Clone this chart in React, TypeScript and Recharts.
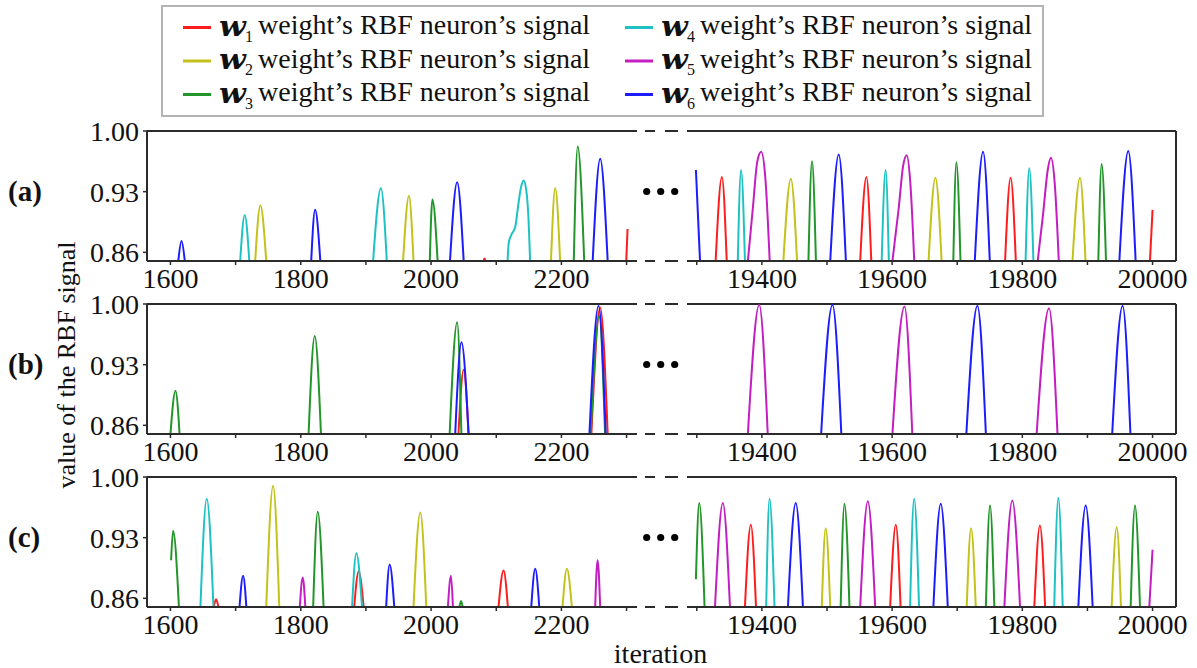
import React from "react";
import { LineChart, Line, XAxis, YAxis, ReferenceLine } from "recharts";

type Pt = [number, number];
type Peak = [number, Pt[]]; // [series index (0 = w1 ... 5 = w6)]

const SERIES_SUBS = ["1", "2", "3", "4", "5", "6"];
const SERIES_TEXT = "weight\u2019s RBF neuron\u2019s signal";
const PANEL_LABELS = ["(a)", "(b)", "(c)"];
const Y_TICKS = [0.86, 0.93, 1.0];
const LEFT_TICKS = [1600, 1700, 1800, 1900, 2000, 2100, 2200, 2300];
const RIGHT_TICKS = [19300, 19400, 19500, 19600, 19700, 19800, 19900, 20000];
const LEFT_DOMAIN: [number, number] = [1564, 2316];
const RIGHT_DOMAIN: [number, number] = [19285, 20036];
const Y_DOMAIN: [number, number] = [0.85, 1.0];

const A_LEFT: Peak[] = [
  [5, [[1612, 0.85], [1617, 0.873], [1622, 0.85]]],
  [3, [[1707, 0.85], [1714, 0.903], [1721, 0.85]]],
  [1, [[1730, 0.85], [1738, 0.914], [1747, 0.85]]],
  [5, [[1816, 0.85], [1822, 0.909], [1830, 0.85]]],
  [3, [[1911, 0.85], [1923, 0.934], [1932, 0.85]]],
  [1, [[1957, 0.85], [1966, 0.925], [1973, 0.85]]],
  [2, [[1998, 0.85], [2002, 0.921], [2010, 0.85]]],
  [5, [[2029, 0.85], [2040, 0.941], [2050, 0.85]]],
  [0, [[2080.5, 0.85], [2082, 0.853], [2083.5, 0.85]]],
  [3, [[2117.4, 0.85], [2119, 0.87], [2123, 0.88], [2129, 0.889], [2134, 0.916], [2138, 0.935], [2142, 0.943], [2146, 0.932], [2149.6, 0.897], [2152, 0.85]]],
  [1, [[2184, 0.85], [2190.5, 0.934], [2198, 0.85]]],
  [2, [[2219, 0.85], [2225, 0.982], [2235, 0.85]]],
  [5, [[2248, 0.85], [2259.5, 0.968], [2271, 0.85]]],
  [0, [[2299.5, 0.85], [2301.5, 0.887]]],
];

const A_RIGHT: Peak[] = [
  [5, [[19298.7, 0.955], [19305, 0.85]]],
  [0, [[19329, 0.85], [19338.6, 0.947], [19346, 0.85]]],
  [3, [[19363, 0.85], [19368, 0.955], [19374, 0.85]]],
  [4, [[19378.5, 0.85], [19386, 0.91], [19393, 0.965], [19399, 0.976], [19405.5, 0.944], [19412, 0.85]]],
  [1, [[19433, 0.85], [19444.5, 0.945], [19454, 0.85]]],
  [2, [[19471.5, 0.85], [19477, 0.965], [19483, 0.85]]],
  [5, [[19505, 0.85], [19518, 0.973], [19529, 0.85]]],
  [0, [[19551, 0.85], [19560.5, 0.947], [19568, 0.85]]],
  [3, [[19584, 0.85], [19590, 0.955], [19595, 0.85]]],
  [4, [[19600.5, 0.85], [19610, 0.91], [19617, 0.96], [19622.5, 0.972], [19628, 0.94], [19634, 0.85]]],
  [1, [[19656, 0.85], [19666.5, 0.946], [19676, 0.85]]],
  [2, [[19694, 0.85], [19698.7, 0.964], [19705, 0.85]]],
  [5, [[19727, 0.85], [19739.7, 0.976], [19750, 0.85]]],
  [0, [[19773.5, 0.85], [19782, 0.946], [19790, 0.85]]],
  [3, [[19805, 0.85], [19810.7, 0.957], [19817, 0.85]]],
  [4, [[19823.6, 0.85], [19832, 0.905], [19839, 0.955], [19844, 0.969], [19850, 0.937], [19856, 0.85]]],
  [1, [[19877, 0.85], [19888.6, 0.946], [19897, 0.85]]],
  [2, [[19916.7, 0.85], [19921.8, 0.962], [19928.5, 0.85]]],
  [5, [[19949, 0.85], [19962.7, 0.977], [19974, 0.85]]],
  [0, [[19996, 0.85], [20000, 0.909]]],
];

const B_LEFT: Peak[] = [
  [2, [[1600, 0.85], [1607.7, 0.9], [1614, 0.85]]],
  [2, [[1812, 0.85], [1821.4, 0.963], [1831, 0.85]]],
  [0, [[2042, 0.85], [2050, 0.924], [2057.5, 0.85]]],
  [2, [[2028.5, 0.85], [2040, 0.979], [2046.5, 0.85]]],
  [5, [[2037, 0.85], [2046.6, 0.956], [2057.5, 0.85]]],
  [0, [[2246, 0.85], [2259.5, 0.996], [2271, 0.85]]],
  [2, [[2245, 0.85], [2258, 0.986], [2267, 0.85]]],
  [5, [[2243, 0.85], [2257, 0.998], [2268, 0.85]]],
];

const B_RIGHT: Peak[] = [
  [4, [[19378.5, 0.85], [19395.9, 0.999], [19409, 0.85]]],
  [5, [[19491, 0.85], [19508.4, 0.999], [19522, 0.85]]],
  [4, [[19600.5, 0.85], [19619, 0.997], [19631, 0.85]]],
  [5, [[19714, 0.85], [19731, 0.998], [19744, 0.85]]],
  [4, [[19822, 0.85], [19841, 0.995], [19854, 0.85]]],
  [5, [[19938, 0.85], [19954, 0.998], [19966, 0.85]]],
];

const C_LEFT: Peak[] = [
  [2, [[1601, 0.904], [1604, 0.938], [1613, 0.85]]],
  [3, [[1646, 0.85], [1655.7, 0.975], [1666, 0.85]]],
  [0, [[1666.5, 0.85], [1670, 0.859], [1673.6, 0.85]]],
  [5, [[1706, 0.85], [1711.5, 0.886], [1716.5, 0.85]]],
  [1, [[1747, 0.85], [1757.5, 0.99], [1767, 0.85]]],
  [4, [[1798.5, 0.85], [1803, 0.884], [1807, 0.85]]],
  [2, [[1819, 0.85], [1826, 0.96], [1835, 0.85]]],
  [3, [[1878.7, 0.85], [1885.3, 0.912], [1894, 0.85]]],
  [0, [[1882, 0.85], [1888.8, 0.891], [1896.5, 0.85]]],
  [5, [[1931, 0.85], [1936.4, 0.899], [1943.5, 0.85]]],
  [1, [[1973, 0.85], [1983.4, 0.959], [1992.6, 0.85]]],
  [4, [[2025.8, 0.85], [2030.5, 0.886], [2033.5, 0.85]]],
  [2, [[2043.5, 0.85], [2045.9, 0.857], [2048.5, 0.85]]],
  [0, [[2103.5, 0.85], [2111.2, 0.892], [2117.8, 0.85]]],
  [5, [[2153.7, 0.85], [2159.8, 0.894], [2166, 0.85]]],
  [1, [[2201.7, 0.85], [2208.4, 0.894], [2216, 0.85]]],
  [4, [[2251.8, 0.85], [2255.5, 0.904], [2259.5, 0.85]]],
];

const C_RIGHT: Peak[] = [
  [2, [[19298.7, 0.882], [19303.8, 0.97], [19312, 0.85]]],
  [4, [[19328, 0.85], [19340, 0.97], [19351, 0.85]]],
  [0, [[19374, 0.85], [19383, 0.945], [19391, 0.85]]],
  [3, [[19406.6, 0.85], [19411.7, 0.975], [19419.4, 0.85]]],
  [5, [[19440, 0.85], [19452, 0.97], [19463, 0.85]]],
  [1, [[19492, 0.85], [19498, 0.941], [19505, 0.85]]],
  [2, [[19521, 0.85], [19526.8, 0.969], [19534.5, 0.85]]],
  [4, [[19551, 0.85], [19562.7, 0.972], [19574, 0.85]]],
  [0, [[19597, 0.85], [19605.7, 0.945], [19613, 0.85]]],
  [3, [[19627.6, 0.85], [19633.8, 0.975], [19641.4, 0.85]]],
  [5, [[19663.4, 0.85], [19674.7, 0.969], [19685.5, 0.85]]],
  [1, [[19714.6, 0.85], [19721.3, 0.941], [19728.5, 0.85]]],
  [2, [[19744, 0.85], [19750.4, 0.967], [19757, 0.85]]],
  [4, [[19772.4, 0.85], [19784.6, 0.973], [19796.5, 0.85]]],
  [0, [[19818.4, 0.85], [19827, 0.944], [19835, 0.85]]],
  [3, [[19849, 0.85], [19855.3, 0.976], [19862, 0.85]]],
  [5, [[19886, 0.85], [19897.3, 0.967], [19908, 0.85]]],
  [1, [[19937.2, 0.85], [19945, 0.942], [19951.5, 0.85]]],
  [2, [[19966.4, 0.85], [19973, 0.967], [19980.7, 0.85]]],
  [4, [[19995, 0.85], [20000, 0.916]]],
];

const ROWS: { left: Peak[]; right: Peak[] }[] = [
  { left: A_LEFT, right: A_RIGHT },
  { left: B_LEFT, right: B_RIGHT },
  { left: C_LEFT, right: C_RIGHT },
];

// ---- styles ----
const COLORS = ["#ff1c1c", "#c2c21a", "#22962a", "#1ec2c2", "#c21ec2", "#1c1cff"];
const FONT = "'Liberation Serif', 'Times New Roman', serif";
const AXIS_COLOR = "#2b2b2b";
const ROW_TOPS = [131, 304, 477];
const PLOT_H = 130;
const LEFT_PLOT_X0 = 147;
const LEFT_PLOT_X1 = 637;
const RIGHT_PLOT_X0 = 687;
const RIGHT_PLOT_X1 = 1176;
const TICK_FONT = 28;
const M_TOP = 20;

const tickStyle = { fontFamily: FONT, fontSize: TICK_FONT, fill: "#111" };
const fmtX = (v: number) => (v % 200 === 0 ? String(v) : "");
const fmtY = (v: number) => v.toFixed(2);

function renderPeaks(peaks: Peak[], prefix: string) {
  const ordered = peaks
    .map((p, i) => ({ p, i }))
    .sort((a, b) => a.p[0] - b.p[0] || a.i - b.i);
  return ordered.map(({ p, i }) => (
    <Line
      key={`${prefix}-${i}`}
      data={p[1].map(([x, y]) => ({ x, y }))}
      dataKey="y"
      type="monotone"
      stroke={COLORS[p[0]]}
      strokeWidth={2}
      dot={false}
      activeDot={false}
      legendType="none"
      isAnimationActive={false}
    />
  ));
}

function LeftPanel({ peaks, top, id }: { peaks: Peak[]; top: number; id: string }) {
  return (
    <div style={{ position: "absolute", left: 0, top: top - M_TOP }}>
      <LineChart
        width={LEFT_PLOT_X1 + 10}
        height={PLOT_H + M_TOP + 50}
        margin={{ top: M_TOP, right: 10, bottom: 0, left: 0 }}
      >
        <XAxis
          type="number"
          dataKey="x"
          domain={LEFT_DOMAIN}
          allowDataOverflow
          ticks={LEFT_TICKS}
          interval={0}
          tickFormatter={fmtX}
          height={50}
          tickSize={4}
          tickMargin={3}
          tick={tickStyle}
          axisLine={{ stroke: AXIS_COLOR, strokeWidth: 2 }}
          tickLine={{ stroke: AXIS_COLOR, strokeWidth: 1.5 }}
        />
        <YAxis
          type="number"
          domain={Y_DOMAIN}
          allowDataOverflow
          ticks={Y_TICKS}
          interval={0}
          tickFormatter={fmtY}
          width={LEFT_PLOT_X0}
          tickSize={4}
          tickMargin={4}
          tick={tickStyle}
          axisLine={{ stroke: AXIS_COLOR, strokeWidth: 2 }}
          tickLine={{ stroke: AXIS_COLOR, strokeWidth: 1.5 }}
        />
        <ReferenceLine y={1} stroke={AXIS_COLOR} strokeWidth={2} />
        {renderPeaks(peaks, id)}
      </LineChart>
    </div>
  );
}

function RightPanel({ peaks, top, id }: { peaks: Peak[]; top: number; id: string }) {
  const chartLeft = RIGHT_PLOT_X0 - 10;
  return (
    <div style={{ position: "absolute", left: chartLeft, top: top - M_TOP }}>
      <LineChart
        width={RIGHT_PLOT_X1 - chartLeft + 12}
        height={PLOT_H + M_TOP + 50}
        margin={{ top: M_TOP, right: 2, bottom: 0, left: 10 }}
      >
        <XAxis
          type="number"
          dataKey="x"
          domain={RIGHT_DOMAIN}
          allowDataOverflow
          ticks={RIGHT_TICKS}
          interval={0}
          tickFormatter={fmtX}
          height={50}
          tickSize={4}
          tickMargin={3}
          tick={tickStyle}
          axisLine={{ stroke: AXIS_COLOR, strokeWidth: 2 }}
          tickLine={{ stroke: AXIS_COLOR, strokeWidth: 1.5 }}
        />
        <YAxis
          type="number"
          orientation="right"
          domain={Y_DOMAIN}
          allowDataOverflow
          ticks={Y_TICKS}
          width={10}
          tick={false}
          tickLine={false}
          axisLine={{ stroke: AXIS_COLOR, strokeWidth: 2 }}
        />
        <ReferenceLine y={1} stroke={AXIS_COLOR} strokeWidth={2} />
        {renderPeaks(peaks, id)}
      </LineChart>
    </div>
  );
}

function Overlay() {
  const legendX = [183, 625];
  const legendRowsY = [34, 67.5, 101];
  return (
    <svg
      width={1197}
      height={668}
      style={{ position: "absolute", left: 0, top: 0, pointerEvents: "none" }}
    >
      {/* legend */}
      <rect x={162} y={6} width={881} height={110} fill="#fff" stroke="#b4b4b4" strokeWidth={2} />
      {SERIES_SUBS.map((sub, i) => {
        const col = Math.floor(i / 3);
        const row = i % 3;
        const x0 = legendX[col];
        const base = legendRowsY[row];
        return (
          <g key={sub}>
            <line x1={x0} x2={x0 + 28} y1={base - 6.5} y2={base - 6.5} stroke={COLORS[i]} strokeWidth={3} />
            <text
              transform={`translate(${x0 + 36},${base + 1.5}) scale(1.15,1)`}
              fontFamily="'DejaVu Serif', serif"
              fontWeight="bold"
              fontStyle="italic"
              fontSize={27}
              fill="#111"
            >
              w
            </text>
            <text x={x0 + 62} y={base + 7.5} fontFamily={FONT} fontSize={16} fill="#111">
              {sub}
            </text>
            <text x={x0 + 75} y={base} fontFamily={FONT} fontSize={28} fill="#111">
              {SERIES_TEXT}
            </text>
          </g>
        );
      })}

      {/* row decorations */}
      {ROW_TOPS.map((t, r) => (
        <g key={r}>
          <text x={8} y={t + 69.5} fontFamily={FONT} fontWeight="bold" fontSize={29} fill="#111">
            {PANEL_LABELS[r]}
          </text>
          {[t, t + PLOT_H].map((yy, k) => (
            <g key={k}>
              <line x1={645} x2={655} y1={yy} y2={yy} stroke={AXIS_COLOR} strokeWidth={2} />
              <line x1={665} x2={678} y1={yy} y2={yy} stroke={AXIS_COLOR} strokeWidth={2} />
            </g>
          ))}
          {[646.7, 660.7, 674.7].map((cx) => (
            <circle key={cx} cx={cx} cy={t + 60.5} r={3.6} fill="#000" />
          ))}
        </g>
      ))}

      {/* axis titles */}
      <text
        transform="translate(75,365) rotate(-90)"
        textAnchor="middle"
        fontFamily={FONT}
        fontSize={26}
        fill="#111"
      >
        value of the RBF signal
      </text>
      <text x={660.5} y={663} textAnchor="middle" fontFamily={FONT} fontSize={28} fill="#111">
        iteration
      </text>
    </svg>
  );
}

export default function App() {
  return (
    <div
      style={{
        position: "absolute",
        left: 0,
        top: 0,
        width: 1197,
        height: 668,
        background: "#fff",
        overflow: "hidden",
      }}
    >
      {ROWS.map((row, r) => (
        <React.Fragment key={r}>
          <LeftPanel peaks={row.left} top={ROW_TOPS[r]} id={`l${r}`} />
          <RightPanel peaks={row.right} top={ROW_TOPS[r]} id={`r${r}`} />
        </React.Fragment>
      ))}
      <Overlay />
    </div>
  );
}
